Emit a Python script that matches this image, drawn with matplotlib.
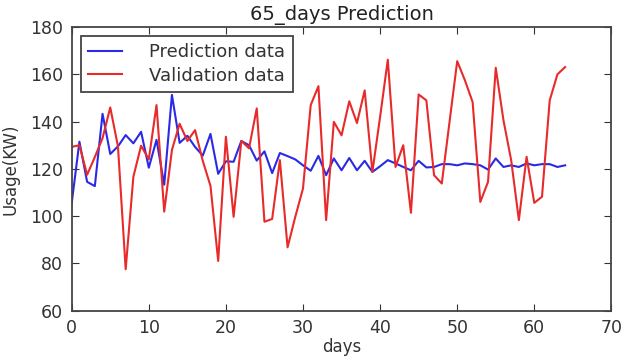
import matplotlib
matplotlib.use("Agg")
import matplotlib.pyplot as plt
import numpy as np

days = list(range(65))
prediction = [105.5, 131.5, 114.5, 112.7, 143.3, 126.3, 129.5, 134.3, 130.8, 135.7,
              120.5, 132.3, 113.3, 151.3, 131.0, 134.0, 129.3, 125.6, 134.8, 117.9,
              123.2, 123.0, 131.8, 130.0, 123.5, 127.4, 118.2, 126.7, 125.4, 124.0,
              121.5, 119.2, 125.5, 117.3, 124.4, 119.4, 124.6, 119.4, 123.4, 118.7,
              121.1, 123.7, 122.3, 120.8, 119.4, 123.4, 120.6, 120.8, 122.0, 122.0,
              121.5, 122.3, 122.0, 121.5, 119.7, 124.4, 120.8, 121.5, 120.8, 122.3,
              121.5, 122.0, 122.0, 120.8, 121.5]
validation = [129.3, 130.0, 117.5, 125.0, 133.0, 146.0, 129.5, 77.5, 116.7, 129.8,
              124.0, 147.0, 101.9, 128.0, 139.1, 131.8, 136.4, 123.4, 112.8, 81.0,
              133.6, 99.7, 131.8, 128.7, 145.6, 97.6, 98.8, 123.7, 86.8, 99.7,
              111.7, 147.0, 155.0, 98.3, 139.9, 134.2, 148.6, 139.4, 153.2, 118.7,
              142.0, 166.2, 120.8, 130.0, 101.4, 151.5, 149.0, 117.3, 113.8, 139.7,
              165.6, 157.5, 148.3, 106.0, 114.5, 162.8, 140.6, 123.7, 98.3, 125.1,
              105.6, 108.2, 149.0, 160.0, 163.1]
xticks = [0, 10, 20, 30, 40, 50, 60, 70]
yticks = [60, 80, 100, 120, 140, 160, 180]

fig = plt.figure(figsize=(6.29, 3.57), dpi=100)
ax = fig.add_axes([0.114, 0.130, 0.858, 0.794])

ax.plot(days, prediction, color="#2a2ae6", lw=1.5, label="Prediction data")
ax.plot(days, validation, color="#e82a2a", lw=1.5, label="Validation data")

ax.set_xlim(0, 70)
ax.set_ylim(60, 180)
ax.set_xticks(xticks)
ax.set_yticks(yticks)
ax.tick_params(direction="in", top=True, right=True, labelsize=12.5,
               colors="#333333", length=5, width=0.8, pad=6)
for s in ax.spines.values():
    s.set_color("#444444")
    s.set_linewidth(1.3)

ax.set_title("65_days Prediction", fontsize=14, color="#222222", pad=5)
ax.set_xlabel("days", fontsize=12, color="#333333", labelpad=1)
ax.set_ylabel("Usage(KW)", fontsize=12, color="#333333", labelpad=8)

leg = ax.legend(loc="upper left", fontsize=13, fancybox=False, framealpha=1,
                edgecolor="#444444", handlelength=1.9, borderpad=0.4,
                labelspacing=0.3, handletextpad=1.5, borderaxespad=0.5)
leg.get_frame().set_linewidth(1.3)
for t in leg.get_texts():
    t.set_color("#333333")

fig.savefig("out.png", dpi=100)
